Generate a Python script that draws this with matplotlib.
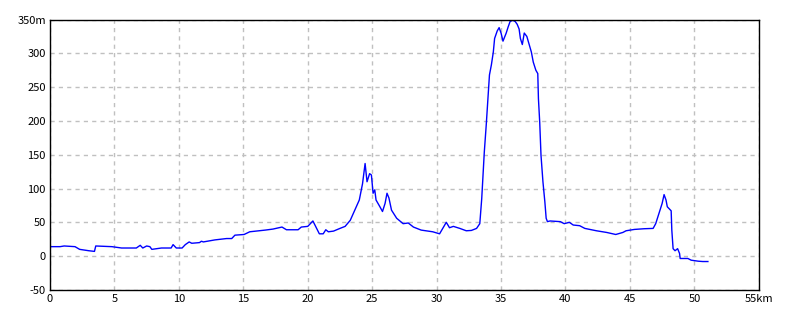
import matplotlib
matplotlib.use("Agg")
import matplotlib.pyplot as plt

# distance (km) and elevation (m)
dist = [0, 0.78, 1.1, 1.94, 2.3, 3.0, 3.45, 3.55, 4.8, 5.55, 6.3, 6.7, 7.0, 7.2, 7.5,
        7.75, 7.9, 8.65, 9.4, 9.55, 9.8, 10.25, 10.5, 10.8, 11.0, 11.6, 11.75, 11.9,
        12.8, 13.7, 14.1, 14.35, 15.06, 15.5, 16.7, 17.3, 18.0, 18.35, 19.25, 19.5,
        20.0, 20.4, 20.9, 21.2, 21.4, 21.6, 22.0, 22.5, 22.9, 23.3, 23.6, 24.0, 24.25,
        24.45, 24.6, 24.8, 24.94, 25.07, 25.2, 25.3, 25.6, 25.8, 26.0, 26.15, 26.3,
        26.5, 26.9, 27.4, 27.8, 28.2, 28.8, 29.7, 30.23, 30.75, 31.0, 31.3, 31.8,
        32.3, 32.7, 33.1, 33.35, 33.5, 33.6, 33.7, 33.85, 34.0, 34.1, 34.25, 34.4,
        34.5, 34.7, 34.85, 35.0, 35.15, 35.3, 35.4, 35.55, 35.7, 35.9, 36.1, 36.25,
        36.4, 36.5, 36.65, 36.75, 36.8, 37.0, 37.15, 37.35, 37.5, 37.7, 37.85, 37.9,
        38.0, 38.1, 38.25, 38.4, 38.5, 38.6, 38.8, 39.6, 39.9, 40.3, 40.6, 41.1, 41.5,
        41.9, 42.4, 43.2, 43.9, 44.45, 44.7, 45.35, 46.1, 46.8, 47.0, 47.25, 47.5,
        47.65, 47.8, 47.9, 48.2, 48.25, 48.35, 48.5, 48.7, 48.85, 48.9, 49.5, 49.75,
        50.3, 50.65, 51.05]
elev = [14, 14, 15, 14, 10, 8, 7, 15, 14, 12, 12, 12, 16, 12, 15,
        14, 10, 12, 12, 17, 12, 12, 17, 21, 19, 20, 22, 21,
        24, 26, 26, 31, 32, 36, 38.5, 40, 43, 39, 39, 43,
        44, 52, 33, 33, 39, 36, 37, 41, 44, 53, 66, 83, 107,
        137, 110, 122, 120, 93, 98, 83, 73, 66, 78, 93, 86,
        68, 56, 48, 49, 43, 38.5, 36, 33, 50, 42, 44, 41,
        37.5, 38, 41, 48, 85, 120, 154, 194, 238, 268, 283, 302,
        322, 333, 338, 330, 318, 325, 330, 339, 347, 349, 347, 343,
        336, 322, 313, 325, 330, 325, 315, 302, 287, 275, 270, 233,
        198, 149, 110, 80, 56, 51, 52, 51, 48, 50, 46, 45, 41,
        39.5, 37.5, 35, 32, 35, 37.5, 39.5, 40.5, 41, 48, 63, 78,
        91, 83, 73, 67, 38.5, 11, 8, 11, 4, -3.5, -3.5, -6,
        -7.5, -8, -8]

xticks = [0, 5, 10, 15, 20, 25, 30, 35, 40, 45, 50, 55]
xlabels = ["0", "5", "10", "15", "20", "25", "30", "35", "40", "45", "50", "55km"]
yticks = [-50, 0, 50, 100, 150, 200, 250, 300, 350]
ylabels = ["-50", "0", "50", "100", "150", "200", "250", "300", "350m"]

plt.rcParams['font.family'] = ['Noto Sans CJK JP', 'DejaVu Sans']

fig = plt.figure(figsize=(8, 3.2), dpi=100)
ax = fig.add_axes([0.0625, 0.094, 0.886, 0.845])
ax.plot(dist, elev, color="#0000ff", linewidth=1.0)
ax.set_xlim(0, 55)
ax.set_ylim(-50, 350)
ax.set_xticks(xticks)
ax.set_xticklabels(xlabels)
ax.set_yticks(yticks)
ax.set_yticklabels(ylabels)
ax.tick_params(length=0, labelsize=8, pad=3)
ax.grid(True, color="#c0c0c0", linestyle=(0, (3, 3)), linewidth=1)
for s in ax.spines.values():
    s.set_linewidth(1.0)

fig.savefig("out.png", dpi=100)
